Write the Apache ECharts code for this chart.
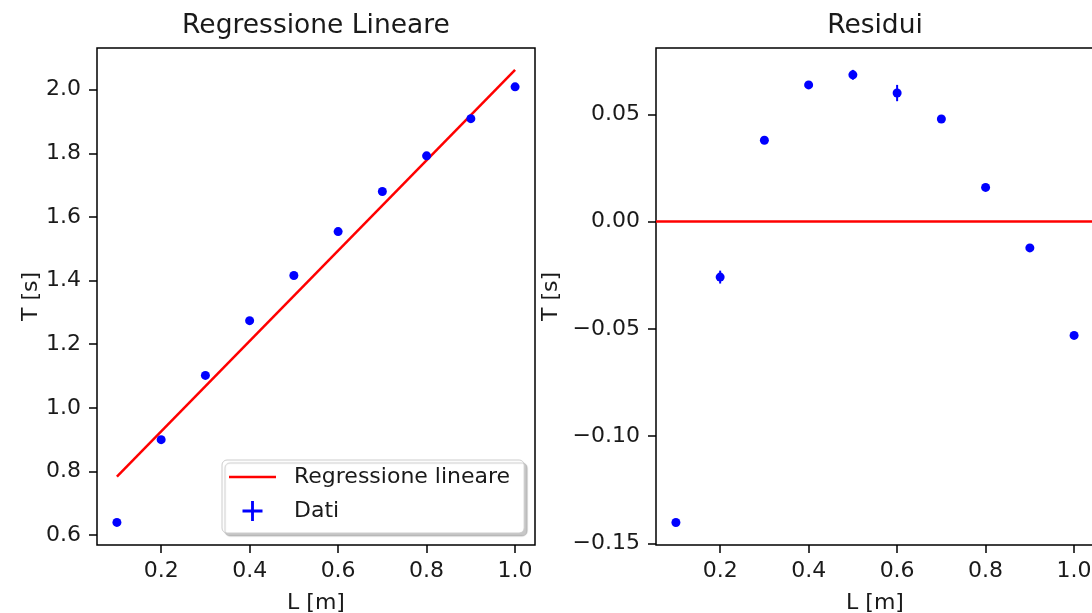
<!DOCTYPE html>
<html>
<head>
<meta charset="utf-8">
<script src="https://cdn.jsdelivr.net/npm/echarts@6/dist/echarts.min.js"></script>
<style>
  html, body { margin: 0; padding: 0; background: #fff; }
  #chart { width: 1092px; height: 613px; }
</style>
</head>
<body>
<div id="chart"></div>
<script>
// ---- Data ----
const lengthL = [0.1, 0.2, 0.3, 0.4, 0.5, 0.6, 0.7, 0.8, 0.9, 1.0];
const periodT = [0.640, 0.900, 1.102, 1.274, 1.416, 1.554, 1.680, 1.792, 1.909, 2.009];
const periodErr = [0.0015, 0.003, 0.0015, 0.0015, 0.0023, 0.0038, 0.0015, 0.0015, 0.0015, 0.0015];
const residui = [-0.1403, -0.0259, 0.0379, 0.0637, 0.0684, 0.0599, 0.0478, 0.0159, -0.0123, -0.0531];
const fitL = [0.1, 1.0];
const fitT = [0.784, 2.062];

const xTicks = [0.2, 0.4, 0.6, 0.8, 1.0];
const yTicksLeft = [0.6, 0.8, 1.0, 1.2, 1.4, 1.6, 1.8, 2.0];
const yTicksRight = [-0.15, -0.10, -0.05, 0.00, 0.05];

const titleLeft = 'Regressione Lineare';
const titleRight = 'Residui';
const xName = 'L [m]';
const yName = 'T [s]';
const legendLine = 'Regressione lineare';
const legendData = 'Dati';

// ---- Styling ----
const FONT = 'DejaVu Sans';
const TXT = '#1a1a1a';
const BLUE = '#0000ff';
const RED = '#ff0000';
const fmtMinus = (s) => s.replace('-', '\u2212');

function xAxisOf(gridIndex) {
  return {
    type: 'value', gridIndex,
    min: 0.055, max: 1.045,
    name: xName, nameLocation: 'middle', nameGap: 47,
    nameTextStyle: { fontFamily: FONT, fontSize: 22, color: TXT },
    axisLine: { show: false, onZero: false },
    axisTick: { show: true, inside: false, length: 8, customValues: xTicks,
                lineStyle: { color: '#000', width: 1.5 } },
    axisLabel: { customValues: xTicks, margin: 15, fontFamily: FONT, fontSize: 22, color: TXT,
                 formatter: (v) => fmtMinus(v.toFixed(1)) },
    splitLine: { show: false }
  };
}
function yAxisOf(gridIndex, min, max, ticks, dec, gap) {
  return {
    type: 'value', gridIndex, min, max,
    name: yName, nameLocation: 'middle', nameGap: gap, nameRotate: 90,
    nameTextStyle: { fontFamily: FONT, fontSize: 22, color: TXT },
    axisLine: { show: false, onZero: false },
    axisTick: { show: true, inside: false, length: 8, customValues: ticks,
                lineStyle: { color: '#000', width: 1.5 } },
    axisLabel: { customValues: ticks, margin: 16, fontFamily: FONT, fontSize: 22, color: TXT,
                 formatter: (v) => fmtMinus(v.toFixed(dec)) },
    splitLine: { show: false }
  };
}

function errorBarSeries(name, xIdx, yIdx, centers) {
  return {
    type: 'custom', name, xAxisIndex: xIdx, yAxisIndex: yIdx, silent: true, z: 3,
    encode: { x: 0, y: [1, 2] },
    data: lengthL.map((l, i) => [l, centers[i] - periodErr[i], centers[i] + periodErr[i]]),
    renderItem: (params, api) => {
      const p1 = api.coord([api.value(0), api.value(1)]);
      const p2 = api.coord([api.value(0), api.value(2)]);
      return { type: 'line', shape: { x1: p1[0], y1: p1[1], x2: p2[0], y2: p2[1] },
               style: { stroke: BLUE, lineWidth: 2 } };
    }
  };
}

const gridCommon = { top: 48, width: 438, height: 497, show: true, borderColor: '#000', borderWidth: 1.5,
                     backgroundColor: 'transparent', containLabel: false, outerBoundsMode: 'none' };

const chart = echarts.init(document.getElementById('chart'), null, { renderer: 'canvas' });
chart.setOption({
  animation: false,
  backgroundColor: '#fff',
  textStyle: { fontFamily: FONT },
  title: [
    { text: titleLeft, left: 316, top: 13, textAlign: 'center', padding: 0,
      textStyle: { fontFamily: FONT, fontSize: 26.5, fontWeight: 'normal', color: TXT } },
    { text: titleRight, left: 875, top: 13, textAlign: 'center', padding: 0,
      textStyle: { fontFamily: FONT, fontSize: 26.5, fontWeight: 'normal', color: TXT } }
  ],
  grid: [
    Object.assign({ left: 97 }, gridCommon),
    Object.assign({ left: 656 }, gridCommon)
  ],
  xAxis: [xAxisOf(0), xAxisOf(1)],
  yAxis: [
    yAxisOf(0, 0.569, 2.131, yTicksLeft, 1, 38),
    yAxisOf(1, -0.1508, 0.0809, yTicksRight, 2, 94)
  ],
  legend: {
    orient: 'vertical', left: 222, top: 460,
    padding: [6, 14, 11, 7],
    itemWidth: 47, itemHeight: 20, itemGap: 12,
    backgroundColor: '#fff', borderColor: '#cccccc', borderWidth: 1, borderRadius: 5,
    shadowColor: 'rgba(0,0,0,0.22)', shadowBlur: 1, shadowOffsetX: 3, shadowOffsetY: 3,
    textStyle: { fontFamily: FONT, fontSize: 22, color: TXT, lineHeight: 22, padding: [0, 0, 0, 13] },
    selectedMode: false,
    data: [
      { name: legendLine, icon: 'path://M0 0 H47 V2.5 H0 Z', itemStyle: { color: RED } },
      { name: legendData, icon: 'path://M9 0 H12 V21 H9 Z M0 9 H21 V12 H0 Z', itemStyle: { color: BLUE } }
    ]
  },
  series: [
    {
      type: 'line', name: legendLine, xAxisIndex: 0, yAxisIndex: 0,
      data: fitL.map((l, i) => [l, fitT[i]]),
      showSymbol: false, symbol: 'none', silent: true, z: 2,
      lineStyle: { color: RED, width: 2.5 }, itemStyle: { color: RED }
    },
    errorBarSeries('errT', 0, 0, periodT),
    {
      type: 'scatter', name: legendData, xAxisIndex: 0, yAxisIndex: 0,
      data: lengthL.map((l, i) => [l, periodT[i]]),
      symbol: 'circle', symbolSize: 9, itemStyle: { color: BLUE, opacity: 1 }, z: 4
    },
    errorBarSeries('errR', 1, 1, residui),
    {
      type: 'scatter', name: 'Residui', xAxisIndex: 1, yAxisIndex: 1,
      data: lengthL.map((l, i) => [l, residui[i]]),
      symbol: 'circle', symbolSize: 9, itemStyle: { color: BLUE, opacity: 1 }, z: 4,
      markLine: {
        silent: true, symbol: 'none', label: { show: false },
        lineStyle: { color: RED, width: 2.5, type: 'solid', opacity: 1 },
        data: [{ yAxis: 0 }]
      }
    }
  ]
});
</script>
</body>
</html>
